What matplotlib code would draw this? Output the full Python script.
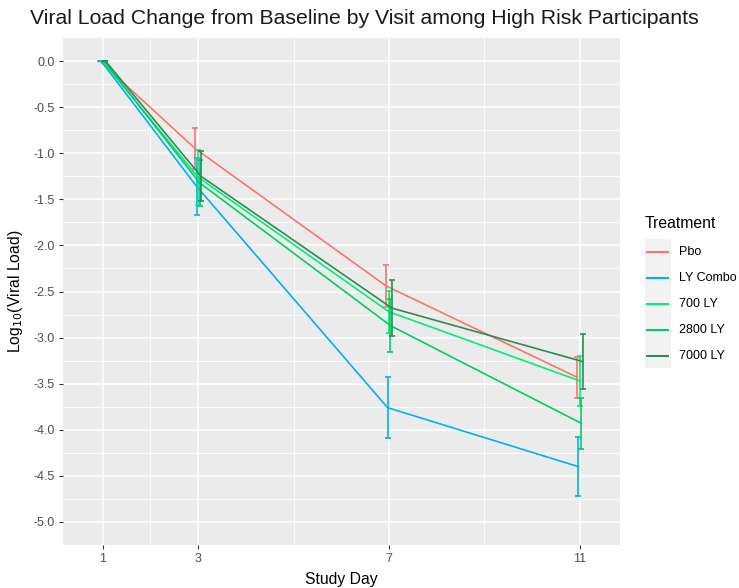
import numpy as np
import matplotlib
matplotlib.use('Agg')
import matplotlib.pyplot as plt
from matplotlib.lines import Line2D
from matplotlib.patches import Rectangle

plt.rcParams['font.family'] = ['Liberation Sans', 'DejaVu Sans']

days = [1, 3, 7, 11]
treatments = ['Pbo', 'LY Combo', '700 LY', '2800 LY', '7000 LY']
colors = ['#F8766D', '#00B0F6', '#00EE76', '#00CD66', '#2E8B57']

pbo_mean = [0, -0.95, -2.44, -3.43]
pbo_err = [0, 0.22, 0.23, 0.22]
combo_mean = [0, -1.36, -3.76, -4.40]
combo_err = [0, 0.31, 0.33, 0.32]
ly700_mean = [0, -1.26, -2.72, -3.47]
ly700_err = [0, 0.30, 0.23, 0.27]
ly2800_mean = [0, -1.32, -2.87, -3.93]
ly2800_err = [0, 0.25, 0.29, 0.28]
ly7000_mean = [0, -1.25, -2.68, -3.26]
ly7000_err = [0, 0.27, 0.30, 0.30]

means = [pbo_mean, combo_mean, ly700_mean, ly2800_mean, ly7000_mean]
errs = [pbo_err, combo_err, ly700_err, ly2800_err, ly7000_err]

fig = plt.figure(figsize=(7.39, 5.88), dpi=100)
ax = fig.add_axes([63/739, 1-545/588, (620-63)/739, (545-38)/588])
ax.set_facecolor('#EBEBEB')
for s in ax.spines.values():
    s.set_visible(False)

# small dodge like position_dodge
for i, (m, e, c) in enumerate(zip(means, errs, colors)):
    x = np.array(days) + (i - 2) * 0.03
    ax.plot(x, m, color=c, lw=1.2, zorder=3)
    ax.errorbar(x, m, yerr=e, fmt='none', ecolor=c, elinewidth=1.2,
                capsize=2.3, capthick=1.2, zorder=3)

ax.set_xlim(0.17, 11.84)
ax.set_ylim(-5.25, 0.25)
ax.set_xticks(days)
ax.set_xticks([2, 5, 9], minor=True)
yt = np.arange(-5.0, 0.01, 0.5)
ax.set_yticks(yt)
ax.set_yticklabels(['%.1f' % v for v in yt])
ax.set_yticks(np.arange(-4.75, 0.1, 0.5), minor=True)
ax.grid(which='major', color='white', lw=1.1, zorder=0)
ax.grid(which='minor', color='white', lw=0.55, zorder=0)
ax.set_axisbelow(True)
ax.tick_params(which='major', length=3, width=0.8, color='#333333',
               labelcolor='#4D4D4D', labelsize=9, pad=3)
ax.tick_params(which='minor', length=0)

ax.set_xlabel('Study Day', fontsize=11.3, color='black', labelpad=5)
ax.set_ylabel('Log$_{10}$(Viral Load)', fontsize=11.3, color='black', labelpad=6)
fig.text(30/739, 1-18/588, 'Viral Load Change from Baseline by Visit among High Risk Participants',
         fontsize=15.3, ha='left', va='center', color='#1A1A1A')

# legend
fig.text(645/739, 1-224/588, 'Treatment', fontsize=11.3, ha='left', va='center')
fig.patches.append(Rectangle((645/739, 1-368/588), 26/739, 129/588,
                             transform=fig.transFigure, facecolor='#F2F2F2',
                             edgecolor='none', zorder=0))
for i, (t, c) in enumerate(zip(treatments, colors)):
    yy = 1 - (252 + i * 26) / 588
    fig.lines.append(Line2D([647/739, 668/739], [yy, yy], transform=fig.transFigure,
                            color=c, lw=1.5))
    fig.text(679/739, yy, t, fontsize=9, ha='left', va='center', color='black')

fig.savefig('out.png', dpi=100)
